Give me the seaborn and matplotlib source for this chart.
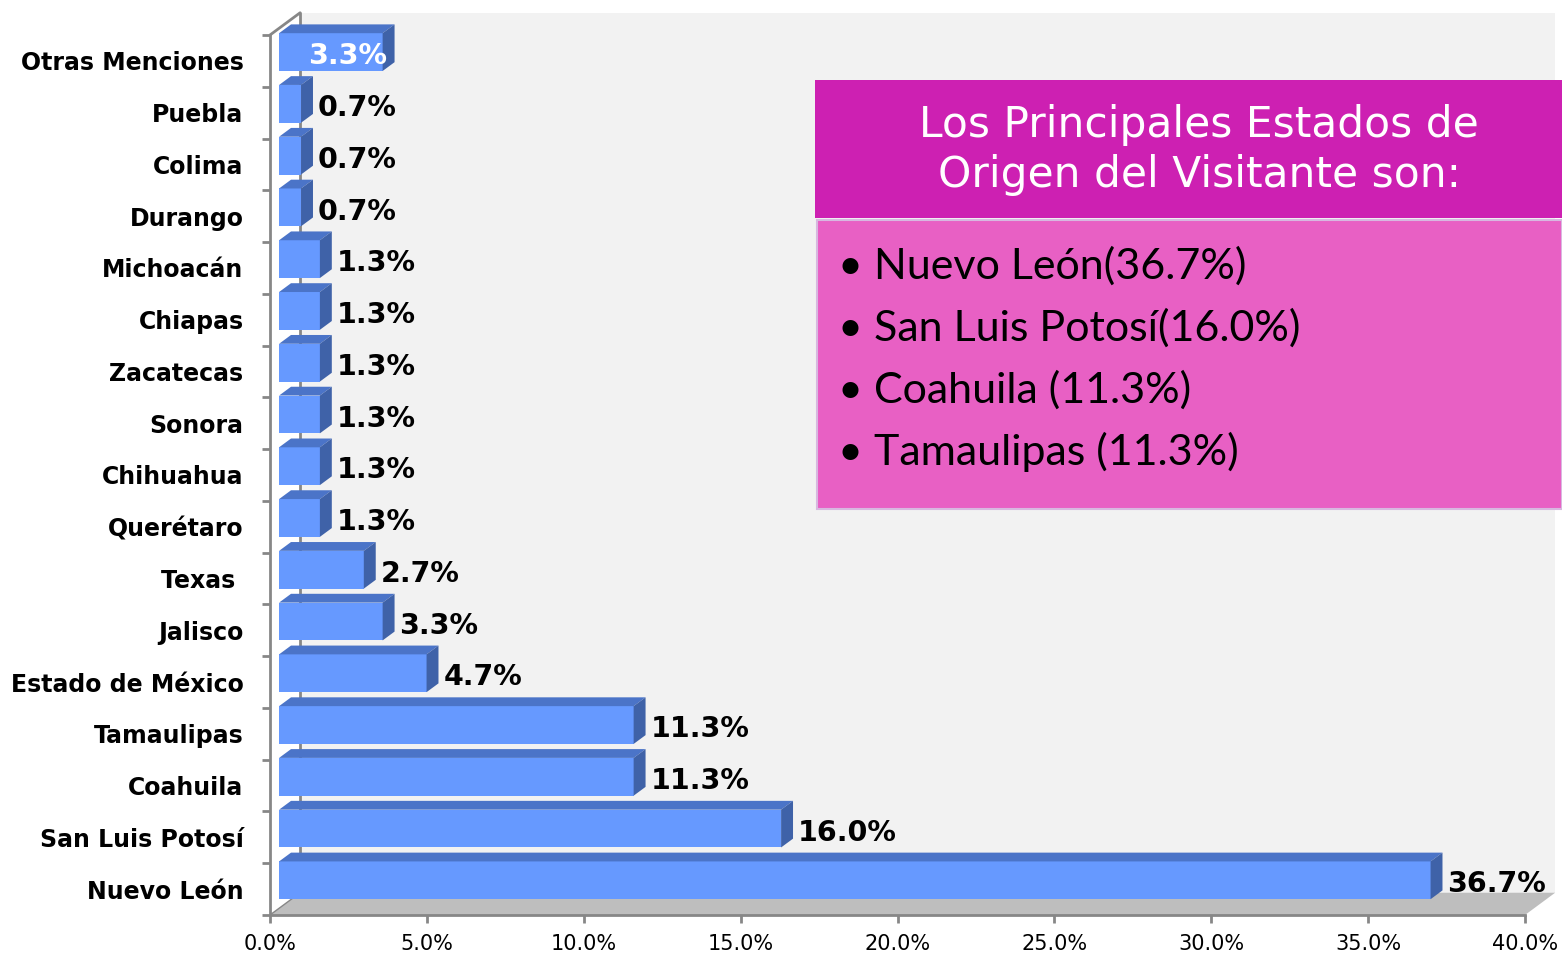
import numpy as np
import pandas as pd
import matplotlib
matplotlib.use("Agg")
import matplotlib.pyplot as plt
import seaborn as sns
from matplotlib.patches import Polygon, Rectangle

# ─────────────────────────────────────────────
# Data
# ─────────────────────────────────────────────
states = [
    "Otras Menciones", "Puebla", "Colima", "Durango", "Michoacán", "Chiapas",
    "Zacatecas", "Sonora", "Chihuahua", "Querétaro", "Texas ", "Jalisco",
    "Estado de México", "Tamaulipas", "Coahuila", "San Luis Potosí", "Nuevo León",
]
share = [3.3, 0.7, 0.7, 0.7, 1.3, 1.3, 1.3, 1.3, 1.3, 1.3, 2.7, 3.3, 4.7,
         11.3, 11.3, 16.0, 36.7]
x_ticks = [0, 5, 10, 15, 20, 25, 30, 35, 40]

box_title = "Los Principales Estados de\nOrigen del Visitante son:"
box_items = [
    "• Nuevo León(36.7%)",
    "• San Luis Potosí(16.0%)",
    "• Coahuila (11.3%)",
    "• Tamaulipas (11.3%)",
]

# ─────────────────────────────────────────────
# Style
# ─────────────────────────────────────────────
sns.set_style("white")
plt.rcParams["font.family"] = ["DejaVu Sans"]

W, H = 1562, 960
FRONT = "#6699ff"
TOP = "#4b74c8"
SIDE = "#3f62a8"
WALL = "#f2f2f2"
FLOOR = "#bebebe"
AXIS = "#878787"

fig = plt.figure(figsize=(W / 100, H / 100), dpi=100)
fig.patch.set_facecolor("white")
ax = fig.add_axes([270 / W, 45 / H, 1255 / W, 880 / H])
ax.set_facecolor("none")

df = pd.DataFrame({"state": states, "share": share})
sns.barplot(data=df, x="share", y="state", orient="h", color=FRONT,
            saturation=1, width=0.73, linewidth=0, ax=ax)

ax.set_xlim(0, 40)
ax.set_ylim(len(states) - 0.5, -0.5)

# 3D offsets (data units)
wx, wy = 0.96, 0.43      # wall depth
bx, by = 0.29, 0.17      # bar front-face shift
dx, dy = 0.38, 0.17      # bar depth

y0, y1 = -0.5, len(states) - 0.5

# back wall + floor
ax.add_patch(Polygon([(wx, y0 - wy), (40 + wx, y0 - wy), (40 + wx, y1 - wy), (wx, y1 - wy)],
                     closed=True, facecolor=WALL, edgecolor="none", zorder=0.1, clip_on=False))
ax.add_patch(Polygon([(0, y1), (40, y1), (40 + wx, y1 - wy), (wx, y1 - wy)],
                     closed=True, facecolor=FLOOR, edgecolor="none", zorder=0.2, clip_on=False))
ax.plot([0, wx], [y0, y0 - wy], color=AXIS, lw=2, zorder=0.3, clip_on=False)
ax.plot([wx, wx], [y0 - wy, y1 - wy], color=AXIS, lw=2, zorder=0.3, clip_on=False)
ax.plot([0, wx], [y1, y1 - wy], color=AXIS, lw=1, zorder=0.3, clip_on=False)

# bars: shift front face and add top / side faces
bars = [p for p in ax.patches if p.get_facecolor()[:3] == matplotlib.colors.to_rgb(FRONT)]
for i, patch in enumerate(bars):
    patch.set_x(patch.get_x() + bx)
    patch.set_y(patch.get_y() - by)
    patch.set_zorder(2)
    patch.set_clip_on(False)
    xa = patch.get_x()
    xb = xa + patch.get_width()
    yt = patch.get_y()
    yb = yt + patch.get_height()
    ax.add_patch(Polygon([(xa, yt), (xb, yt), (xb + dx, yt - dy), (xa + dx, yt - dy)],
                         closed=True, facecolor=TOP, edgecolor="none", zorder=2, clip_on=False))
    ax.add_patch(Polygon([(xb, yt), (xb + dx, yt - dy), (xb + dx, yb - dy), (xb, yb)],
                         closed=True, facecolor=SIDE, edgecolor="none", zorder=2, clip_on=False))
    yc = (yt + yb) / 2 + 0.08
    label = f"{share[i]:.1f}%"
    if i == 0:
        ax.text(xb + 0.15, yc, label, ha="right", va="center", fontsize=20.5,
                fontweight="bold", color="white", zorder=3, clip_on=False)
    else:
        ax.text(xb + dx + 0.15, yc, label, ha="left", va="center", fontsize=20.5,
                fontweight="bold", color="black", zorder=3, clip_on=False)

# axes styling
for side in ["top", "right"]:
    ax.spines[side].set_visible(False)
for side in ["left", "bottom"]:
    ax.spines[side].set_color(AXIS)
    ax.spines[side].set_linewidth(2)
    ax.spines[side].set_zorder(0.4)

ax.set_xlabel("")
ax.set_ylabel("")
ax.set_xticks(x_ticks)
ax.set_xticklabels([f"{v:.1f}%" for v in x_ticks], fontsize=15, color="black")
ax.tick_params(axis="x", direction="out", length=6, width=2, color=AXIS, pad=8, bottom=True)
ax.set_yticks(range(len(states)))
ax.set_yticklabels(states, fontsize=17, fontweight="bold", color="black")
ax.tick_params(axis="y", which="major", length=0, pad=19)
ax.set_yticks(np.arange(-0.5, len(states), 1), minor=True)
ax.tick_params(axis="y", which="minor", direction="out", length=6, width=2,
               color=AXIS, left=True)
ax.grid(False)

# ─────────────────────────────────────────────
# Summary box
# ─────────────────────────────────────────────
fig.add_artist(Rectangle((815 / W, 1 - 218 / H), (1562 - 815) / W, 138 / H,
                         transform=fig.transFigure, facecolor="#cd20b2",
                         edgecolor="none", zorder=5))
fig.add_artist(Rectangle((817 / W, 1 - 509 / H), (1562 - 817) / W, 289 / H,
                         transform=fig.transFigure, facecolor="#e860c4",
                         edgecolor="#d8b8e0", linewidth=1.5, zorder=5))
fig.text(1199 / W, 1 - 150 / H, box_title, ha="center", va="center",
         fontsize=30.5, color="white", linespacing=1.22, zorder=6)
for k, item in enumerate(box_items):
    fig.text(838 / W, 1 - (266 + 62 * k) / H, item, ha="left", va="center",
             fontsize=31, color="black", family=["Lato", "DejaVu Sans"], zorder=6)

fig.savefig("out.png", dpi=100)
